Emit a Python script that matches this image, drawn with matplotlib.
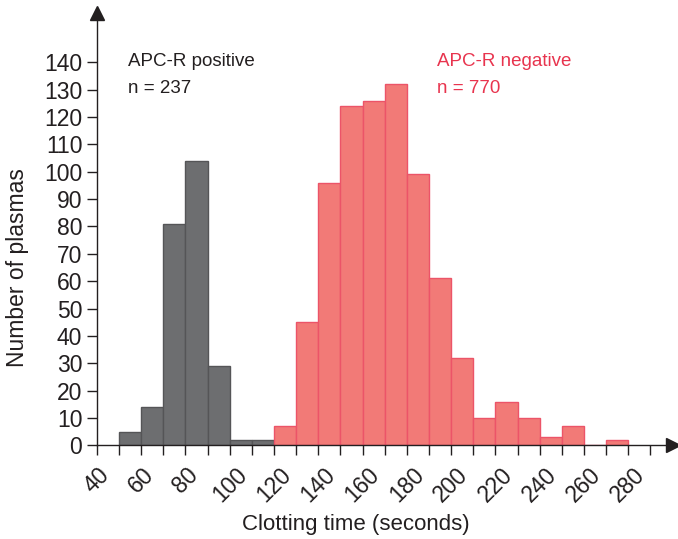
import numpy as np
import matplotlib
matplotlib.use("Agg")
import matplotlib.pyplot as plt

plt.rcParams['font.family'] = ['Liberation Sans', 'DejaVu Sans']

# bin left edges (seconds) and counts
pos_bins = [50, 60, 70, 80, 90, 100, 110]
pos_counts = [5, 14, 81, 104, 29, 2, 2]
neg_bins = [120, 130, 140, 150, 160, 170, 180, 190, 200, 210, 220, 230, 240, 250, 260, 270]
neg_counts = [7, 45, 96, 124, 126, 132, 99, 61, 32, 10, 16, 10, 3, 7, 0, 2]

xtick_labels = list(range(40, 281, 20))
ytick_labels = list(range(0, 141, 10))

fig = plt.figure(figsize=(6.78, 5.39), dpi=100)
ax = fig.add_axes([0.1429, 0.1738, 0.849, 0.802])

ax.bar(pos_bins, pos_counts, width=10, align='edge', color='#6d6e70',
       edgecolor='#555557', linewidth=1.0, zorder=2)
ax.bar(neg_bins, neg_counts, width=10, align='edge', color='#f27a77',
       edgecolor='#ec5468', linewidth=1.0, zorder=2)

ax.set_xlim(40, 300)
ax.set_ylim(0, 158)

for s in ['top', 'right']:
    ax.spines[s].set_visible(False)
for s in ['left', 'bottom']:
    ax.spines[s].set_color('#231f20')
    ax.spines[s].set_linewidth(1.0)

# arrow heads at axis ends
ax.plot(1.0, 0, marker='>', markersize=10, color='#231f20',
        transform=ax.get_yaxis_transform(), clip_on=False, zorder=5)
ax.plot(40, 1.0, marker='^', markersize=10, color='#231f20',
        transform=ax.get_xaxis_transform(), clip_on=False, zorder=5)

ax.set_yticks(ytick_labels)
ax.set_yticklabels([str(v) for v in ytick_labels], fontsize=16.5, color='#231f20')
ax.set_xticks(np.arange(40, 291, 10))
ax.set_xticklabels([str(v) if v in xtick_labels else '' for v in range(40, 291, 10)],
                   fontsize=16.5, rotation=45, color='#231f20')
ax.tick_params(axis='both', direction='out', length=7, width=1, color='#231f20')
ax.tick_params(axis='x', pad=6)

fig.text(0.0265, 0.503, 'Number of plasmas', fontsize=16.5, color='#231f20',
         rotation=90, ha='center', va='center')
fig.text(0.525, 0.026, 'Clotting time (seconds)', fontsize=16, color='#231f20',
         ha='center', va='center')

ax.text(54, 140.3, 'APC-R positive', fontsize=13.5, color='#231f20', va='center')
ax.text(54, 130.6, 'n = 237', fontsize=13.5, color='#231f20', va='center')
ax.text(193.5, 140.3, 'APC-R negative', fontsize=13.5, color='#e8344e', va='center')
ax.text(193.5, 130.6, 'n = 770', fontsize=13.5, color='#e8344e', va='center')

fig.savefig('out.png', dpi=100)
